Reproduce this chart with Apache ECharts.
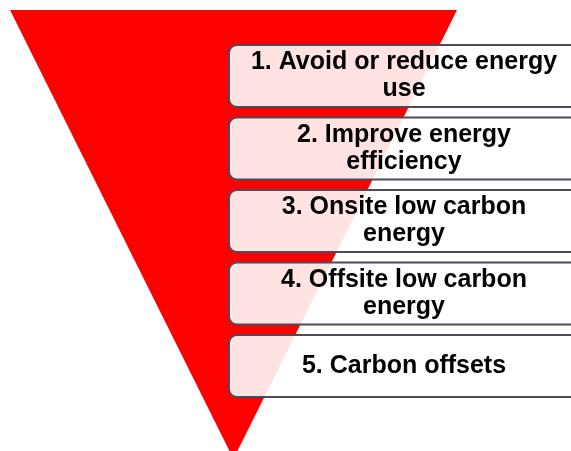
<!DOCTYPE html>
<html>
<head>
<meta charset="utf-8">
<script src="https://cdn.jsdelivr.net/npm/echarts@6/dist/echarts.min.js"></script>
<style>html,body{margin:0;padding:0;background:#fff;}#c{width:571px;height:451px;}</style>
</head>
<body>
<div id="c"></div>
<script>
// Steps of the hierarchy (top to bottom)
const steps = [
  '1. Avoid or reduce energy\nuse',
  '2. Improve energy\nefficiency',
  '3. Onsite low carbon\nenergy',
  '4. Offsite low carbon\nenergy',
  '5. Carbon offsets'
];
// Each box spans the full width of its band
const stepValues = [1, 1, 1, 1, 1];
// Single inverted triangle (funnel) value
const triangleValue = [100];

const chart = echarts.init(document.getElementById('c'), null, {renderer: 'canvas'});
chart.setOption({
  animation: false,
  backgroundColor: '#ffffff',
  grid: {left: 228, top: 39.75, width: 352, bottom: 48.75, containLabel: false, outerBoundsMode: 'none'},
  xAxis: {type: 'value', min: 0, max: 1, show: false},
  yAxis: {type: 'category', data: steps, inverse: true, show: false},
  series: [
    {
      type: 'funnel',
      z: 1,
      left: 10, top: 10, width: 447, height: 449,
      min: 0, max: 100,
      minSize: '0%', maxSize: '100%',
      sort: 'descending',
      gap: 0,
      silent: true,
      label: {show: false},
      labelLine: {show: false},
      itemStyle: {color: '#ff0000', borderWidth: 0},
      emphasis: {disabled: true},
      data: triangleValue.map(v => ({value: v, name: 'hierarchy'}))
    },
    {
      type: 'bar',
      z: 2,
      barWidth: 64,
      clip: false,
      silent: true,
      data: stepValues,
      itemStyle: {
        color: 'rgba(255,255,255,0.89)',
        borderColor: '#4b4b5d',
        borderWidth: 2,
        borderRadius: 8
      },
      label: {
        show: true,
        position: 'inside',
        formatter: p => steps[p.dataIndex],
        color: '#000000',
        fontFamily: 'Liberation Sans, Arial, sans-serif',
        fontWeight: 'bold',
        fontSize: 25,
        lineHeight: 27,
        align: 'center'
      }
    }
  ]
});
</script>
</body>
</html>
